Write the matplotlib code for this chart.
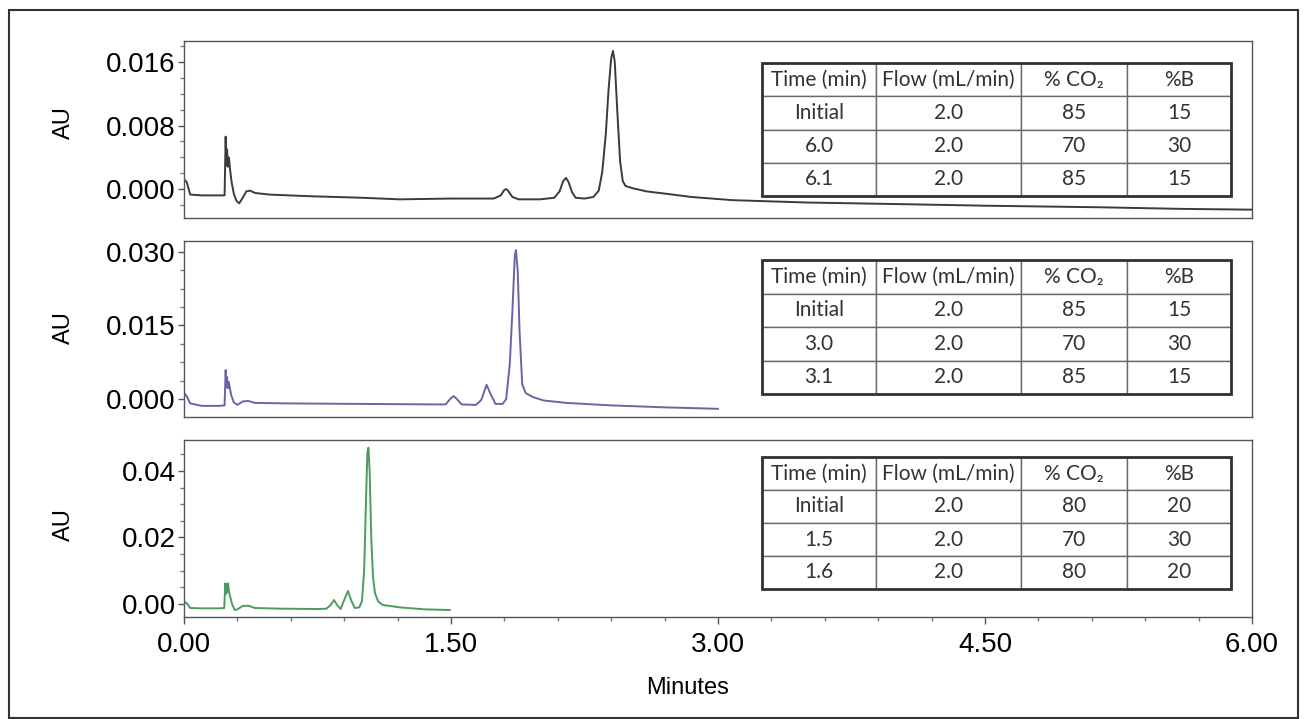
import matplotlib
matplotlib.use("Agg")
import matplotlib.pyplot as plt
from matplotlib.patches import Rectangle
from matplotlib.ticker import MultipleLocator, FormatStrFormatter

# ---- chromatogram traces (minutes, AU) ----
top_t = [0.00, 0.015, 0.035, 0.10, 0.20, 0.228, 0.234, 0.238, 0.242, 0.246,
         0.250, 0.254, 0.260, 0.268, 0.280, 0.295, 0.31, 0.33, 0.35, 0.37,
         0.40, 0.48, 0.70, 1.00, 1.21, 1.50, 1.74, 1.78, 1.80, 1.81,
         1.82, 1.845, 1.88, 2.00, 2.08, 2.11, 2.13, 2.146, 2.16, 2.18,
         2.20, 2.25, 2.30, 2.33, 2.35, 2.37, 2.385, 2.40, 2.41, 2.42,
         2.435, 2.45, 2.465, 2.48, 2.52, 2.60, 2.71, 2.85, 3.08, 3.50,
         4.02, 4.50, 5.15, 5.60, 6.00]
top_au = [0.0012, 0.0009, -0.0007, -0.0008, -0.0008, -0.0008, 0.0066, 0.0030, 0.0050, 0.0028,
          0.0040, 0.0036, 0.0022, 0.0008, -0.0006, -0.0015, -0.0018, -0.0011, -0.0003, -0.0002,
          -0.0005, -0.0007, -0.0009, -0.0011, -0.0013, -0.0012, -0.0012, -0.0008, -0.0001, 0.0000,
          -0.0002, -0.0010, -0.0013, -0.0013, -0.0011, -0.0003, 0.0010, 0.0014, 0.0009, -0.0004,
          -0.0011, -0.0012, -0.0010, -0.0002, 0.0022, 0.0070, 0.0125, 0.0165, 0.0174, 0.0160,
          0.0095, 0.0035, 0.0010, 0.0004, 0.0001, -0.0003, -0.0006, -0.0010, -0.0014, -0.0017,
          -0.0019, -0.0021, -0.0023, -0.0025, -0.0026]

mid_t = [0.00, 0.015, 0.035, 0.10, 0.20, 0.228, 0.234, 0.238, 0.242, 0.246,
         0.250, 0.256, 0.265, 0.280, 0.30, 0.33, 0.36, 0.40, 0.60, 1.00,
         1.40, 1.47, 1.50, 1.515, 1.53, 1.56, 1.64, 1.67, 1.70, 1.72,
         1.75, 1.79, 1.81, 1.83, 1.845, 1.858, 1.865, 1.875, 1.885, 1.90,
         1.92, 1.96, 2.02, 2.15, 2.40, 2.70, 3.00]
mid_au = [0.0012, 0.0006, -0.0009, -0.0014, -0.0014, -0.0013, 0.0059, 0.0025, 0.0045, 0.0022,
          0.0035, 0.0026, 0.0008, -0.0007, -0.0012, -0.0005, -0.0004, -0.0008, -0.0009, -0.0010,
          -0.0011, -0.0011, 0.0002, 0.0006, 0.0001, -0.0011, -0.0012, -0.0002, 0.0029, 0.0012,
          -0.0010, -0.0010, 0.0000, 0.0070, 0.0180, 0.0290, 0.0304, 0.0260, 0.0140, 0.0030,
          0.0012, 0.0004, -0.0003, -0.0008, -0.0013, -0.0017, -0.0020]

bot_t = [0.00, 0.015, 0.035, 0.10, 0.20, 0.226, 0.232, 0.236, 0.240, 0.244,
         0.248, 0.252, 0.258, 0.270, 0.285, 0.30, 0.33, 0.36, 0.40, 0.55,
         0.75, 0.80, 0.825, 0.843, 0.86, 0.88, 0.90, 0.921, 0.94, 0.96,
         0.985, 1.00, 1.012, 1.022, 1.030, 1.036, 1.043, 1.052, 1.062, 1.073,
         1.09, 1.118, 1.213, 1.35, 1.494]
bot_au = [0.0006, 0.0003, -0.0012, -0.0013, -0.0013, -0.0012, 0.0062, 0.0030, 0.0060, 0.0035,
          0.0062, 0.0040, 0.0025, 0.0000, -0.0018, -0.0016, -0.0006, -0.0005, -0.0012, -0.0014,
          -0.0015, -0.0014, -0.0002, 0.0012, -0.0003, -0.0015, 0.0012, 0.0039, 0.0010, -0.0012,
          -0.0010, 0.0010, 0.0100, 0.0300, 0.0455, 0.0470, 0.0400, 0.0200, 0.0080, 0.0033,
          0.0008, -0.0003, -0.0010, -0.0016, -0.0018]

# ---- gradient tables ----
table_cols = ["Time (min)", "Flow (mL/min)", "% CO\u2082", "%B"]
top_time = ["Initial", "6.0", "6.1"]
mid_time = ["Initial", "3.0", "3.1"]
bot_time = ["Initial", "1.5", "1.6"]
flow = ["2.0", "2.0", "2.0"]
top_co2 = ["85", "70", "85"]
top_b = ["15", "30", "15"]
mid_co2 = ["85", "70", "85"]
mid_b = ["15", "30", "15"]
bot_co2 = ["80", "70", "80"]
bot_b = ["20", "30", "20"]

x_ticks = [0.0, 1.5, 3.0, 4.5, 6.0]

W, H = 1306, 719
plt.rcParams["font.family"] = ["Liberation Sans", "DejaVu Sans"]
fig = plt.figure(figsize=(W / 100, H / 100), dpi=100)

# outer frame
fig.add_artist(Rectangle((9 / W, 1 - 718 / H), (1298 - 9) / W, (718 - 10) / H,
                         transform=fig.transFigure, fill=False, ec="#333333", lw=1.5))


def px_axes(top, bottom, left=184, right=1252):
    return fig.add_axes([left / W, 1 - bottom / H, (right - left) / W, (bottom - top) / H])


panels = [
    dict(box=(41, 218), t=top_t, au=top_au, color="#3b3b3b", ylim=(-0.00365, 0.01865),
         major=0.008, minor=0.002, fmt="%.3f", times=top_time, co2=top_co2, b=top_b,
         tbl=(63, 196), au_y=0.54),
    dict(box=(241, 417), t=mid_t, au=mid_au, color="#6666a6", ylim=(-0.00367, 0.03224),
         major=0.015, minor=0.00375, fmt="%.3f", times=mid_time, co2=mid_co2, b=mid_b,
         tbl=(260, 394), au_y=0.51),
    dict(box=(440, 617), t=bot_t, au=bot_au, color="#4f9a60", ylim=(-0.0039, 0.0493),
         major=0.02, minor=0.005, fmt="%.2f", times=bot_time, co2=bot_co2, b=bot_b,
         tbl=(457, 589), au_y=0.52),
]

col_px = [762, 876, 1021, 1127, 1231]

for i, p in enumerate(panels):
    top, bottom = p["box"]
    ax = px_axes(top, bottom)
    ax.plot(p["t"], p["au"], color=p["color"], lw=1.4)
    ax.set_xlim(0, 6)
    ax.set_ylim(*p["ylim"])
    for s in ax.spines.values():
        s.set_color("#555555")
        s.set_linewidth(1.0)
    ax.yaxis.set_major_locator(MultipleLocator(p["major"]))
    ax.yaxis.set_minor_locator(MultipleLocator(p["minor"]))
    ax.yaxis.set_major_formatter(FormatStrFormatter(p["fmt"]))
    ax.tick_params(axis="y", which="major", length=4, width=1, color="#555555",
                   labelsize=20, pad=2)
    ax.tick_params(axis="y", which="minor", length=3, width=1, color="#777777")
    if i < 2:
        ax.tick_params(axis="x", which="both", bottom=False, labelbottom=False)
    else:
        ax.set_xticks(x_ticks)
        ax.xaxis.set_minor_locator(MultipleLocator(0.3))
        ax.xaxis.set_major_formatter(FormatStrFormatter("%.2f"))
        ax.tick_params(axis="x", which="major", length=5, width=1, color="#555555",
                       labelsize=20, pad=6)
        ax.tick_params(axis="x", which="minor", length=3, width=1, color="#777777")
    ax.text((64 - 184) / 1068, p["au_y"], "AU", rotation=90, ha="center", va="center",
            fontsize=17, transform=ax.transAxes)

    # gradient table
    t_top, t_bot = p["tbl"]
    ah = bottom - top
    bbox = [(col_px[0] - 184) / 1068, (bottom - t_bot) / ah,
            (col_px[-1] - col_px[0]) / 1068, (t_bot - t_top) / ah]
    rows = [list(r) for r in zip(p["times"], flow, p["co2"], p["b"])]
    tb = ax.table(cellText=rows, colLabels=table_cols, bbox=bbox, cellLoc="center")
    tb.auto_set_font_size(False)
    tb.set_fontsize(15)
    total = col_px[-1] - col_px[0]
    for (r, c), cell in tb.get_celld().items():
        cell.set_width((col_px[c + 1] - col_px[c]) / total * bbox[2])
        cell.set_edgecolor("#6a6a6a")
        cell.set_linewidth(1.0)
        cell.get_text().set_fontfamily(["Lato", "DejaVu Sans"])
        cell.get_text().set_color("#333333")
    ax.add_patch(Rectangle((bbox[0], bbox[1]), bbox[2], bbox[3], transform=ax.transAxes,
                           fill=False, ec="#333333", lw=2.0, zorder=10))

fig.text(688 / W, 1 - 688 / H, "Minutes", ha="center", va="center", fontsize=17)

fig.savefig("out.png", dpi=100)
